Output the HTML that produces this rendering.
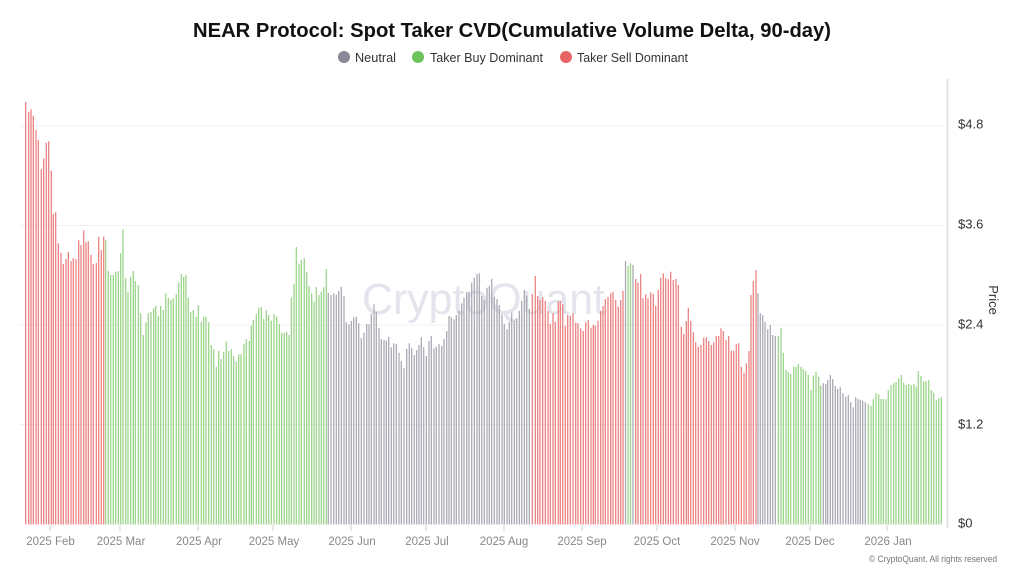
<!DOCTYPE html>
<html><head><meta charset="utf-8"><style>
html,body{margin:0;padding:0;background:#fff;}
svg{display:block;}
text{font-family:"Liberation Sans",sans-serif;}
</style></head><body>
<svg width="1024" height="576" viewBox="0 0 1024 576" xmlns="http://www.w3.org/2000/svg">
<rect width="1024" height="576" fill="#fff"/>
<text x="512" y="37" text-anchor="middle" font-size="20" font-weight="bold" fill="#111" textLength="638" lengthAdjust="spacingAndGlyphs">NEAR Protocol: Spot Taker CVD(Cumulative Volume Delta, 90-day)</text>
<circle cx="344" cy="57" r="6" fill="#8a8898"/>
<text x="355" y="62" font-size="13" fill="#333" textLength="41" lengthAdjust="spacingAndGlyphs">Neutral</text>
<circle cx="418" cy="57" r="6" fill="#6cc35a"/>
<text x="430" y="62" font-size="13" fill="#333" textLength="113" lengthAdjust="spacingAndGlyphs">Taker Buy Dominant</text>
<circle cx="566" cy="57" r="6" fill="#e86464"/>
<text x="577" y="62" font-size="13" fill="#333" textLength="111" lengthAdjust="spacingAndGlyphs">Taker Sell Dominant</text>
<g stroke="#f1f1f3" stroke-width="1">
<line x1="20" y1="126" x2="943" y2="126"/>
<line x1="20" y1="225.5" x2="943" y2="225.5"/>
<line x1="20" y1="325" x2="943" y2="325"/>
<line x1="20" y1="424.5" x2="943" y2="424.5"/>
</g>
<text x="362" y="314" font-size="44" fill="#e4e4ec" textLength="243" lengthAdjust="spacingAndGlyphs">CryptoQuant</text>
<g fill="none" stroke-width="1.25">
<path stroke="#ec7e7e" d="M25.7 101.7V524.5M28.7 111.7V524.5M31 109.3V524.5M33.3 115.7V524.5M36 130V524.5M38.3 140V524.5M41.3 169.3V524.5M43.7 158.3V524.5M46.3 142.7V524.5M48.7 141.3V524.5M51.3 170.7V524.5M53.3 214V524.5M55.7 212V524.5M58.3 243.3V524.5M61 252.7V524.5M63.3 264V524.5M66 259V524.5M68.3 252V524.5M71 261V524.5M73.3 258.3V524.5M76 259V524.5M78.7 240.3V524.5M81 245V524.5M83.7 230.3V524.5M86 242.3V524.5M88.3 241.3V524.5M91 254.7V524.5M93.3 264V524.5M96.3 263V524.5M98.7 236.7V524.5M101.3 250V524.5M103.7 236.7V524.5"/>
<path stroke="#98d488" d="M105.7 240V524.5M108.3 270.7V524.5M110.7 275V524.5M113.3 275V524.5M115.7 271.7V524.5M118.3 271V524.5M120.7 253.3V524.5M123 229.3V524.5M125.7 278.3V524.5M128 291.7V524.5M130.7 276.7V524.5M133.3 271V524.5M135.3 281V524.5M138.3 285V524.5M140.7 313.3V524.5M143.3 335V524.5M146 322.3V524.5M148.3 313.3V524.5M151 311.7V524.5M153.7 308.3V524.5M155.7 305.7V524.5M158.3 315.7V524.5M160.7 306V524.5M163.3 310V524.5M165.7 293.3V524.5M168.3 297.7V524.5M171 300V524.5M173.3 298.3V524.5M176.3 294V524.5M178.7 282.3V524.5M181.3 274V524.5M183.7 277V524.5M186 275V524.5M188.3 297.7V524.5M190.7 312.3V524.5M193.3 310V524.5M196 316.7V524.5M198.3 305V524.5M201.3 321.7V524.5M203.7 316.7V524.5M206 316.7V524.5M208.7 322.3V524.5M211.3 345V524.5M213.7 349V524.5M216.3 366.7V524.5M218.7 350.7V524.5M221 359V524.5M223.7 351.7V524.5M226.3 341.7V524.5M228.7 351V524.5M231.3 349.3V524.5M233.7 356V524.5M236.3 361.7V524.5M238.7 354.3V524.5M241 354.3V524.5M244 344V524.5M246.3 339V524.5M249.3 341V524.5M251.3 325.7V524.5M253.3 320V524.5M256.3 314V524.5M258.7 307.7V524.5M261.3 307V524.5M263.7 319V524.5M266.3 310.3V524.5M268.7 315V524.5M271.3 320.7V524.5M274 314.3V524.5M276.7 316.7V524.5M279.3 324V524.5M281.7 332.7V524.5M284.3 332.7V524.5M286.7 332V524.5M289 335V524.5M291.3 297.7V524.5M294 284V524.5M296.3 247V524.5M299 264.3V524.5M301.3 260V524.5M304.3 258.3V524.5M306.7 271.7V524.5M309 286V524.5M311.7 293.3V524.5M314 301.7V524.5M316.3 287V524.5M319 295V524.5M321.3 291.7V524.5M323.7 287.3V524.5M326.3 269V524.5"/>
<path stroke="#a8a8b2" d="M328.3 293V524.5M331 295V524.5M333.7 293.3V524.5M336.3 295V524.5M338.7 291V524.5M341.3 286.7V524.5M344 296V524.5M346.3 322.3V524.5M349 324.3V524.5M351.3 321V524.5M353.7 317.3V524.5M356.3 316.7V524.5M358.7 323.3V524.5M361.3 338.3V524.5M364 332.7V524.5M366.7 324V524.5M369 324.3V524.5M371.3 314V524.5M374 304.3V524.5M376.3 311.7V524.5M379 328.3V524.5M381.3 339V524.5M384 340V524.5M386.3 340.7V524.5M388.7 336.7V524.5M391.3 347.3V524.5M393.7 343.3V524.5M396.3 344.3V524.5M399 352.7V524.5M401.3 361V524.5M404 368.3V524.5M406.7 349V524.5M409.3 343.3V524.5M411.7 347.7V524.5M414.3 355V524.5M416.7 350V524.5M419 345V524.5M421.3 337.3V524.5M423.7 347.3V524.5M426.3 356V524.5M429 341V524.5M431.3 336V524.5M434 348.3V524.5M436.3 346.7V524.5M439 344V524.5M441.7 345.7V524.5M444 339V524.5M446.7 331V524.5M449 316V524.5M451.3 317.3V524.5M454 319.3V524.5M456.3 315V524.5M459 311V524.5M461.7 303.3V524.5M464 297.7V524.5M466.7 291.7V524.5M469 291.7V524.5M471.7 282.7V524.5M474.3 277.7V524.5M477 274.3V524.5M479.3 273.3V524.5M481.7 296V524.5M484.3 300V524.5M487 287.7V524.5M489.3 286V524.5M491.7 279V524.5M494.3 296.7V524.5M497 299V524.5M499.3 305V524.5M502 314.3V524.5M504.3 324V524.5M507 329.3V524.5M509.3 322.3V524.5M511.7 312.7V524.5M514.3 320.7V524.5M516.7 318.3V524.5M519.3 310.7V524.5M521.7 301V524.5M524.3 290V524.5M526.7 295.7V524.5M529.3 309V524.5M625.5 261V524.5M633 265V524.5M758 293.3V524.5M760.3 313.3V524.5M762.7 315V524.5M765 321.7V524.5M767.7 329.3V524.5M770.3 325V524.5M772.7 335V524.5M775.3 336V524.5M823.3 383.3V524.5M825.7 384V524.5M827.7 380V524.5M830.3 375V524.5M832.7 379V524.5M835.3 386V524.5M837.7 389V524.5M840.3 387.3V524.5M843 393.3V524.5M845.7 396.7V524.5M848.3 395V524.5M850.7 402.3V524.5M853.3 407.3V524.5M855.7 397.3V524.5M858 399V524.5M860.3 400V524.5M862.7 400.7V524.5M865.3 402.3V524.5"/>
<path stroke="#ec7e7e" d="M532.3 294V524.5M535.3 276V524.5M537.7 296V524.5M540 300V524.5M542.7 297.3V524.5M545.3 301V524.5M548 311V524.5M550.3 324V524.5M553 313.3V524.5M555.3 321.7V524.5M558.3 301.7V524.5M560.3 301V524.5M562.7 304.3V524.5M565.3 326V524.5M567.7 315V524.5M570.3 315.7V524.5M573 313.3V524.5M575.7 322.7V524.5M578 323.3V524.5M580.7 328.3V524.5M583.3 331V524.5M585.7 322.3V524.5M588.3 320V524.5M591 327.7V524.5M593.3 325V524.5M595.3 325.7V524.5M598 320.7V524.5M600.7 311V524.5M603 306V524.5M605.3 299V524.5M608 296.7V524.5M610.7 293.3V524.5M613 291.7V524.5M615.7 300V524.5M618.3 306.7V524.5M620.7 300V524.5M623 290.7V524.5M635.7 279V524.5M638 282.7V524.5M640.7 274V524.5M643 298.3V524.5M645.7 294.3V524.5M648 298.3V524.5M650.7 292.3V524.5M653.3 294V524.5M655.7 306V524.5M658.3 290V524.5M660.7 277.7V524.5M663.3 273.3V524.5M665.7 278.3V524.5M668.3 279.3V524.5M670.7 271.7V524.5M673.3 280V524.5M676 279V524.5M678.3 285V524.5M681.3 326.7V524.5M683.7 334V524.5M686.3 321V524.5M688.3 307.7V524.5M690.7 320.7V524.5M693.3 332.3V524.5M695.7 342.3V524.5M698.3 346.7V524.5M701 345V524.5M703.7 337.7V524.5M706.3 337.3V524.5M708.7 341V524.5M711.3 345V524.5M713.7 342.3V524.5M716.3 336V524.5M718.7 336V524.5M721 328.3V524.5M723.3 331V524.5M726 340V524.5M728.7 336V524.5M731.3 350.7V524.5M733.7 350.7V524.5M736.3 344.3V524.5M738.7 343.3V524.5M741.3 366.7V524.5M744 372.7V524.5M746.3 363.3V524.5M749 351V524.5M751 295V524.5M753.3 280.7V524.5M756 270V524.5"/>
<path stroke="#98d488" d="M628 265.7V524.5M630.5 263.3V524.5M778.3 336V524.5M781 328.3V524.5M783.3 352.7V524.5M786 370V524.5M788.3 372.3V524.5M790.7 374V524.5M793.7 366.7V524.5M796 366.7V524.5M798.3 364V524.5M801 366.7V524.5M803.3 369V524.5M805.7 370.7V524.5M808.3 375V524.5M811 390V524.5M813.3 375.7V524.5M816 371.7V524.5M818.7 376.7V524.5M820.7 386V524.5M868.3 404.3V524.5M871 406V524.5M873.3 399.3V524.5M876 393.3V524.5M878.7 394.3V524.5M881 399V524.5M883.3 399V524.5M886 399.3V524.5M888.3 390V524.5M891 385V524.5M893.7 383.3V524.5M896 382V524.5M898.7 378.3V524.5M901.3 375V524.5M903.7 382.7V524.5M906.3 385V524.5M908.7 384V524.5M911.3 385V524.5M914 384V524.5M916.3 386.7V524.5M918.3 371V524.5M921 375.7V524.5M923.7 381.7V524.5M926 381V524.5M928.7 380V524.5M931.3 390V524.5M933.7 392.7V524.5M936.3 400V524.5M938.7 398.3V524.5M941.3 397.3V524.5"/>
</g>
<line x1="947.5" y1="79" x2="947.5" y2="528" stroke="#dcdce2" stroke-width="1.5"/>
<g font-size="13" fill="#333">
<text x="958" y="128.5">$4.8</text>
<text x="958" y="228.5">$3.6</text>
<text x="958" y="328.5">$2.4</text>
<text x="958" y="428.5">$1.2</text>
<text x="958" y="527.5">$0</text>
</g>
<text x="0" y="0" font-size="13" fill="#333" transform="translate(989,300) rotate(90)" text-anchor="middle">Price</text>
<g stroke="#cfcfd4" stroke-width="1">
<line x1="50" y1="525" x2="50" y2="531"/>
<line x1="120" y1="525" x2="120" y2="531"/>
<line x1="198" y1="525" x2="198" y2="531"/>
<line x1="273" y1="525" x2="273" y2="531"/>
<line x1="351" y1="525" x2="351" y2="531"/>
<line x1="426" y1="525" x2="426" y2="531"/>
<line x1="504" y1="525" x2="504" y2="531"/>
<line x1="582" y1="525" x2="582" y2="531"/>
<line x1="657" y1="525" x2="657" y2="531"/>
<line x1="735" y1="525" x2="735" y2="531"/>
<line x1="810" y1="525" x2="810" y2="531"/>
<line x1="887" y1="525" x2="887" y2="531"/>
</g>
<g font-size="11.5" fill="#888" text-anchor="middle">
<text x="50.5" y="545">2025 Feb</text>
<text x="121" y="545">2025 Mar</text>
<text x="199" y="545">2025 Apr</text>
<text x="274" y="545">2025 May</text>
<text x="352" y="545">2025 Jun</text>
<text x="427" y="545">2025 Jul</text>
<text x="504" y="545">2025 Aug</text>
<text x="582" y="545">2025 Sep</text>
<text x="657" y="545">2025 Oct</text>
<text x="735" y="545">2025 Nov</text>
<text x="810" y="545">2025 Dec</text>
<text x="888" y="545">2026 Jan</text>
</g>
<text x="869" y="562" font-size="9.5" fill="#777" textLength="128" lengthAdjust="spacingAndGlyphs">© CryptoQuant. All rights reserved</text>
</svg>
</body></html>
